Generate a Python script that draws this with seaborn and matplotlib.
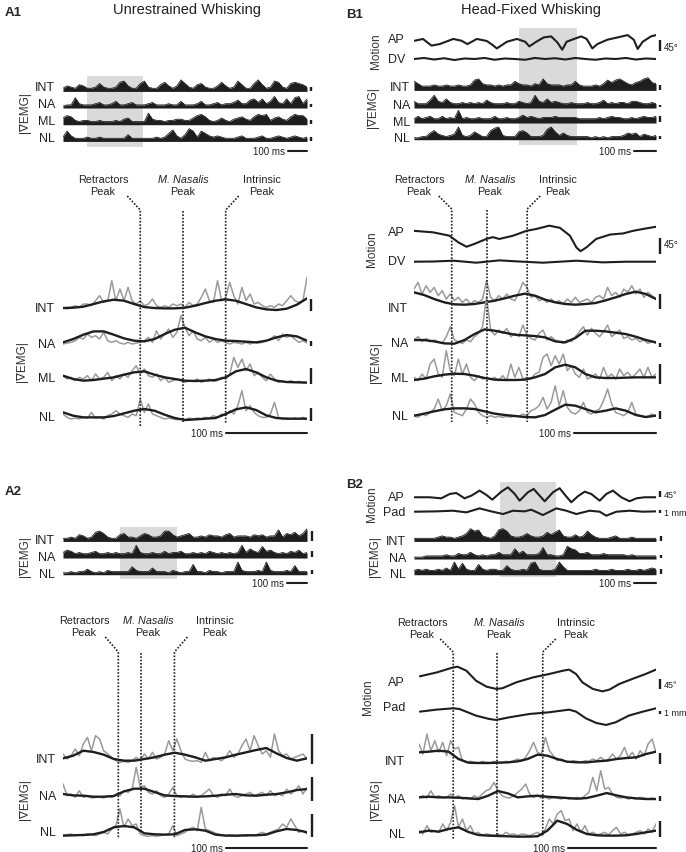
import numpy as np
import matplotlib
matplotlib.use("Agg")
import matplotlib.pyplot as plt
from matplotlib.patches import Rectangle
import seaborn as sns

sns.set_style("white")
plt.rcParams["font.family"] = ["Liberation Sans", "DejaVu Sans"]

# ---------------- data ----------------
# durations (ms) of each trace window, highlighted windows (start, width) and peak times
A1_OV_DUR, A1_DUR = 1260, 300
A2_OV_DUR, A2_DUR = 1200, 300
B1_OV_DUR, B1_DUR = 1110, 295
B2_OV_DUR, B2_DUR = 1100, 270
A1_WIN = (124, 289)
A2_WIN = (280, 280)
B1_WIN = (482, 266)
B2_WIN = (391, 255)
A1_PEAKS = [95, 148, 200]
A2_PEAKS = [68, 96, 137]
B1_PEAKS = [46, 89, 138]
B2_PEAKS = [39, 89, 141]

# overview rectified EMG (envelope, arbitrary units)
A1_OV_INT = [2,4,3,2,5,4,2,2,3,6,3,2,2,3,7,8,4,2,2,6,8,3,2,2,5,7,4,2,4,9,6,3,2,5,6,3,2,2,4,7,4,2,3,8,5,2,2,6,9,5,2,3,8,7,3,2,6,7,6,5,3]
A1_OV_NA = [1,2,2,8,3,2,2,2,3,4,2,2,3,5,2,2,3,4,2,2,2,3,4,2,2,2,3,2,2,5,2,2,2,3,5,2,2,3,4,2,3,3,4,6,3,3,6,7,4,7,3,5,9,4,3,7,3,8,9,3,7]
A1_OV_ML = [5,7,6,3,2,3,3,2,2,3,2,2,2,3,2,4,5,2,2,2,2,9,4,3,3,2,3,3,4,4,3,3,5,7,8,6,3,2,3,5,3,2,4,5,6,4,3,6,8,7,8,3,5,6,4,3,6,8,7,7,4]
A1_OV_NL = [3,8,4,2,2,2,3,2,2,3,2,2,2,2,2,2,5,2,2,2,2,2,2,3,2,3,6,9,4,2,5,10,8,3,8,6,4,3,4,3,2,2,2,3,4,2,2,2,3,4,2,2,3,4,3,2,3,4,3,2,3]

A2_OV_INT = [2,2,3,2,5,4,2,3,7,8,6,3,2,2,5,6,3,3,2,4,6,5,3,3,4,8,8,5,3,4,5,6,3,3,4,3,5,4,4,3,5,6,3,4,4,4,3,5,4,5,3,4,4,9,3,6,5,7,4,6,10]
A2_OV_NA = [4,6,5,3,4,3,3,4,5,3,3,4,3,4,3,3,4,3,10,4,3,3,4,3,3,5,3,4,4,5,3,3,4,3,4,3,5,4,3,4,3,4,3,4,10,4,7,5,4,9,5,6,4,3,4,3,5,4,6,3,4]
A2_OV_NL = [1,1,2,1,2,2,4,2,1,2,1,3,2,2,2,2,2,6,3,2,2,2,5,2,2,2,1,3,2,1,2,2,8,2,2,1,3,2,2,1,2,2,2,10,3,2,2,2,3,2,10,3,2,2,2,3,2,7,2,2,2]

B1_OV_INT = [7,5,3,3,3,4,3,3,4,3,3,4,3,3,4,8,9,5,4,4,3,4,3,4,4,7,5,4,4,3,5,4,9,5,4,4,4,3,4,4,7,4,3,3,3,4,3,5,8,6,8,9,7,5,4,6,7,9,10,6,5]
B1_OV_NA = [5,3,3,3,6,10,5,4,7,4,3,3,4,3,4,3,4,3,6,4,3,3,3,4,3,3,5,4,3,4,10,5,4,7,4,5,4,3,3,4,3,3,3,4,3,3,4,6,3,4,3,4,4,3,5,5,4,3,3,4,3]
B1_OV_ML = [3,5,3,4,5,3,3,5,3,4,3,10,3,4,3,3,4,3,3,3,5,3,3,4,3,3,4,6,4,5,4,3,4,4,4,5,4,4,4,4,4,3,3,3,3,3,4,3,4,5,4,4,3,3,4,3,4,5,4,4,5]
B1_OV_NL = [1,1,2,2,5,7,4,3,2,3,4,10,3,2,3,6,4,2,2,7,9,10,3,2,2,2,6,7,5,2,2,2,3,8,10,6,3,5,3,2,2,2,2,2,1,2,1,2,1,2,2,2,3,5,4,5,2,4,3,2,3]

B2_OV_INT = [2,2,2,2,2,2,3,4,3,3,2,3,4,6,10,8,9,4,3,2,4,9,10,8,4,3,3,4,6,4,3,3,4,7,5,7,9,4,3,3,5,3,4,8,5,3,2,2,2,3,4,2,2,2,3,2,2,2,2,2,2]
B2_OV_NA = [1,1,1,2,2,2,2,2,3,2,2,4,3,3,5,3,2,3,2,3,3,5,3,3,3,8,4,6,3,3,3,4,9,3,3,2,2,3,10,8,7,4,4,5,3,3,3,4,3,3,3,3,3,2,3,2,2,2,2,2,2]
B2_OV_NL = [3,4,3,4,3,3,4,3,5,3,10,4,9,4,3,3,8,4,3,4,4,3,3,7,4,3,3,4,3,9,10,4,3,3,3,4,10,6,3,3,3,3,3,3,3,4,3,3,3,4,3,3,3,4,3,3,4,3,4,5,4]

# overview whisker motion (deg) and pad motion (mm)
B1_OV_AP_T = [3,41,80,118,180,218,245,265,288,334,361,380,426,472,510,529,557,595,629,657,680,700,734,767,792,818,841,887,934,980,1008,1026,1049,1087,1110]
B1_OV_AP = [35,42,16,22,42,35,22,31,42,34,18,5,31,42,31,13,29,48,52,29,0,31,42,52,42,5,22,39,48,57,39,3,31,52,57]
B1_OV_DV = [0,4,-2,3,-4,2,0,4,-3,2,0,-3,4,0,3,-2,4,0,-3,2,0,4,-2,2,0]
B2_OV_AP_T = [3,71,124,162,192,230,261,298,329,356,397,427,458,480,518,544,571,594,632,662,689,715,745,776,806,844,874,904,942,980,1011,1048,1100]
B2_OV_AP = [34,34,27,56,63,27,45,79,50,18,72,101,56,11,68,90,45,7,68,95,45,0,41,72,56,11,56,79,34,7,27,34,34]
B2_OV_PAD_T = [3,102,177,238,298,351,405,450,503,533,586,647,692,738,798,844,874,920,980,1041,1100]
B2_OV_PAD = [0,0.1,0.3,-0.2,1.0,0.1,-0.7,0.3,0.1,0.6,-1.0,1.0,0.3,-0.7,0.3,0,-1.2,0,0.3,0,0.1]

# expanded windows: raw |EMG| (grey) and smoothed (black)
A1_INT_RAW = [1,0.5,1,1.5,1,2,2,1.5,3,4.5,2.5,3,9,3,6.5,3,7,3,2,3,1.5,2,3.5,1.5,1,1.5,1,2,1.5,2,1,2.5,1.5,2,4,6.5,3,2.5,9,3,4,8.5,4.5,2,7,3,5,2,2.5,1.5,1,1.5,1,2,1.5,3,4.5,3,2.5,3,10]
A1_INT_SM = [0.8,0.9,1.2,2.0,2.8,3.3,3.0,2.0,1.1,0.8,0.7,0.7,0.9,1.5,2.3,3.0,3.4,3.0,2.0,1.0,0.4,0.2,0.6,1.8,3.7]
A1_NA_RAW = [0.5,0.8,1.0,1.5,2.5,2.0,3.5,2.5,3.0,2.0,4.0,1.5,1.0,1.5,0.8,0.5,1.0,0.5,0.8,1.0,1.5,2.5,1.0,4.5,2.0,3.5,5.0,2.5,4.0,9.0,5.5,3.0,4.5,2.0,1.5,2.5,1.0,2.0,1.0,1.5,1.0,0.5,1.0,0.8,0.5,1.0,0.5,1.0,0.8,1.0,1.5,2.0,3.0,1.5,3.5,2.5,3.0,2.0,1.0,1.5,0.8]
A1_NA_SM = [1.0,2.0,3.3,4.3,4.3,3.3,2.2,1.5,1.3,2.0,3.5,4.8,5.4,4.0,2.8,2.0,1.5,1.4,1.2,1.0,1.5,2.5,3.2,2.8,1.5]
A1_ML_RAW = [2.5,1.5,2.0,1.0,2.0,1.5,2.5,1.0,3.0,1.5,2.0,3.5,1.0,2.5,1.5,3.0,2.0,4.0,5.5,3.0,4.5,2.5,2.0,3.0,1.0,2.0,0.5,1.0,1.5,1.0,0.5,1.0,0.8,1.5,0.5,1.0,1.5,0.8,1.0,2.0,1.5,3.0,8.0,5.0,7.5,4.0,6.0,2.5,3.5,2.0,1.0,3.0,1.5,0.5,0.8,0.5,1.0,0.5,0.8,0.5,0.5]
A1_ML_SM = [2.5,1.5,1.0,1.2,1.6,2.0,2.8,3.5,3.8,2.8,2.0,1.5,1.0,0.9,1.0,1.2,2.0,3.8,4.5,3.5,2.0,1.0,0.6,0.5,0.4]
A1_NL_RAW = [2.0,1.0,0.5,0.8,0.5,1.0,0.8,2.5,0.8,1.0,0.5,1.5,2.0,3.0,2.0,1.5,1.0,2.0,1.5,6.5,2.5,5.0,2.0,1.5,1.0,0.5,0.8,0.5,0.3,0.5,0.3,0.8,0.5,0.8,0.5,1.0,0.8,1.5,1.0,2.0,1.5,3.0,2.0,4.5,9.0,3.0,4.5,2.5,1.5,1.0,1.0,2.0,5.5,1.0,0.5,0.8,0.5,0.8,0.5,1.0,0.5]
A1_NL_SM = [2.5,1.5,1.0,1.0,1.0,1.4,2.2,3.0,3.5,3.0,1.8,0.8,0.2,0.4,0.6,0.8,2.0,3.4,4.0,3.2,1.6,0.8,0.6,0.6,0.6]

A2_INT_RAW = [3.0,1.5,2.5,4.5,2.5,6.0,8.0,4.0,8.5,7.5,4.0,3.0,2.0,1.0,0.5,0.8,0.5,1.0,2.0,1.0,3.0,1.5,3.5,1.5,2.0,3.0,7.0,4.0,7.5,4.0,1.5,1.0,0.8,1.0,0.5,3.5,1.0,2.0,1.5,1.0,2.0,4.0,2.0,3.0,5.5,7.5,4.0,8.5,5.5,3.0,4.0,2.0,9.0,4.0,2.5,3.0,1.5,2.0,2.5,3.0,1.5]
A2_INT_SM = [1.7,2.5,4.0,3.6,2.8,1.5,1.0,1.0,1.5,2.0,2.8,3.4,2.8,2.0,1.0,1.5,2.0,2.8,3.5,4.2,4.8,3.2,1.8,1.0,1.7]
A2_NA_RAW = [5.0,1.5,2.0,1.0,3.0,1.0,1.5,0.8,1.0,1.2,0.8,1.5,1.0,2.0,1.5,3.0,2.5,3.5,10.0,4.0,4.5,2.5,2.0,3.0,1.5,1.0,2.0,4.0,1.5,1.0,1.5,1.0,2.0,1.0,1.5,2.5,3.5,1.5,1.0,2.0,1.5,3.5,1.5,1.0,1.5,2.0,2.5,1.5,2.0,2.5,1.5,3.0,1.5,2.0,1.5,3.5,2.0,3.0,4.5,2.0,4.0]
A2_NA_SM = [2.0,1.6,1.5,1.2,1.2,1.4,2.8,3.6,3.6,2.6,1.6,1.4,1.3,1.2,1.3,1.5,1.8,2.0,1.6,1.5,1.8,2.0,2.5,3.2,3.5]
A2_NL_RAW = [0.5,0.8,1.0,0.5,0.8,0.5,1.0,0.8,0.5,1.0,1.5,1.0,2.5,3.5,8.5,3.0,5.5,3.5,4.0,1.0,0.5,0.3,0.5,0.3,0.5,0.8,1.0,3.5,0.5,1.0,1.5,2.5,3.0,2.0,9.0,2.5,2.0,1.5,1.0,0.8,0.5,0.8,0.5,0.3,0.5,0.3,0.8,0.5,1.0,1.5,1.0,1.5,2.0,2.5,4.0,3.0,5.5,3.5,1.5,2.0,1.0]
A2_NL_SM = [0.5,0.6,0.7,0.9,1.6,3.0,3.4,3.0,1.2,0.9,0.8,0.9,2.2,2.4,2.0,0.8,0.5,0.5,0.6,0.6,0.8,1.8,2.5,2.2,1.5]

B1_AP_T = [0,23,43,54,64,74,88,96,104,121,137,149,165,178,190,198,203,210,222,239,255,267,279,295]
B1_AP = [58,54,45,27,15,23,36,41,36,45,58,63,72,66,45,13,3,13,36,48,51,58,63,69]
B1_DV_T = [0,23,48,76,104,125,157,178,198,230,259,295]
B1_DV = [0,0.5,2.7,-2.7,3.6,0.9,-2.7,0,2.7,-1.8,0,0]
B1_INT_RAW = [6.0,8.0,4.5,7.0,5.0,6.5,4.0,5.5,3.0,4.5,2.5,3.5,2.0,3.0,1.5,2.5,2.0,3.0,8.5,3.5,2.5,4.0,3.0,4.5,3.0,2.5,5.0,8.0,6.5,3.5,4.0,2.5,3.0,2.0,3.0,2.0,2.5,1.5,3.0,2.0,3.5,2.0,2.5,3.0,2.0,3.5,4.0,3.0,6.5,4.0,5.0,3.5,6.0,5.0,7.0,4.5,6.0,3.5,5.0,4.0,3.0]
B1_INT_SM = [5.0,4.2,3.0,2.0,1.4,1.3,1.5,2.0,2.5,3.2,4.0,4.6,4.0,2.8,2.0,1.5,1.3,1.5,1.8,2.6,3.5,4.5,5.2,4.5,3.0]
B1_NA_RAW = [2.0,3.0,1.5,2.5,1.5,2.0,1.5,1.0,3.0,6.0,2.0,1.5,1.0,2.0,1.5,3.0,4.0,6.0,15.0,5.0,3.5,5.0,4.0,5.5,3.0,4.0,3.0,6.5,3.5,2.5,2.0,4.0,5.0,2.0,3.0,2.0,1.5,1.0,2.0,1.5,3.0,4.5,6.0,3.5,5.5,4.0,3.0,4.5,6.5,3.0,4.0,5.0,2.5,3.0,2.0,2.5,1.5,2.0,1.0,1.5,1.0]
B1_NA_SM = [2.0,2.0,1.6,1.0,0.9,2.0,3.8,5.2,4.8,4.2,3.6,3.4,3.2,2.8,1.6,1.3,2.6,4.8,4.8,4.6,4.2,3.8,3.0,2.0,1.3]
B1_ML_RAW = [2.0,1.0,3.0,1.5,6.0,7.5,3.0,2.0,10.0,4.0,2.5,7.5,3.0,6.0,2.0,1.0,2.5,1.5,2.0,1.5,2.0,1.0,2.5,1.0,6.0,2.0,5.0,1.5,2.0,1.5,3.0,3.5,8.0,9.0,5.5,8.5,6.0,9.0,4.0,5.5,3.0,2.0,4.5,1.5,2.0,3.0,1.5,5.0,2.0,3.0,1.5,4.5,2.5,3.5,2.0,3.0,4.5,2.0,5.0,2.0,3.0]
B1_ML_SM = [1.2,1.6,2.3,2.8,3.1,3.0,2.5,1.8,1.3,1.2,1.2,1.3,2.0,3.0,5.0,5.8,5.0,3.0,2.0,1.8,1.8,1.9,2.0,2.0,2.0]
B1_NL_RAW = [1.0,0.5,1.5,1.0,2.0,3.0,6.0,2.5,4.0,7.5,2.0,1.5,1.0,3.0,6.0,4.5,2.0,1.0,0.5,1.0,0.5,0.8,0.5,0.8,0.5,1.0,0.8,1.5,1.0,2.5,3.0,4.0,6.5,3.0,5.0,10.0,4.0,8.5,3.5,2.0,1.5,2.5,5.0,2.0,1.5,2.5,3.0,5.5,9.0,4.5,2.0,1.5,1.0,2.0,5.0,1.5,1.0,0.5,0.8,1.5,1.0]
B1_NL_SM = [1.0,1.6,2.3,2.9,3.2,3.2,3.0,2.3,1.6,1.2,0.9,0.6,0.5,1.2,2.8,4.3,4.0,3.0,2.0,2.5,3.2,2.5,1.2,0.6,1.0]

B2_AP_T = [1,20,39,44,54,65,77,88,95,111,130,148,164,171,179,186,198,209,217,228,243,258,270]
B2_AP = [65,82,105,108,90,45,18,8,11,38,60,75,90,95,75,38,8,-3,5,30,53,75,95]
B2_PAD_T = [1,20,39,46,65,80,88,103,126,148,171,179,190,202,213,224,239,255,270]
B2_PAD = [1.7,2.3,2.7,2.5,0.5,-0.5,-0.8,0,1.0,1.5,2.3,1.7,-0.3,-1.7,-2.3,-1.5,0.5,1.7,2.7]
B2_INT_RAW = [6.0,3.0,9.0,4.0,7.0,3.5,6.5,2.5,7.0,4.5,5.0,1.0,0.5,0.8,0.5,0.3,0.8,0.5,0.3,0.8,0.5,0.3,0.8,0.5,1.0,1.5,0.8,2.0,4.0,6.5,3.5,3.0,8.0,4.0,2.5,1.0,1.5,0.8,0.5,1.0,0.8,0.5,1.0,0.8,1.5,1.0,2.0,1.0,1.5,3.0,1.5,2.5,5.0,2.0,3.5,1.5,4.0,2.5,6.0,7.5,3.5]
B2_INT_SM = [3.5,3.7,4.0,3.7,1.5,0.4,0.3,0.3,0.4,0.5,0.8,1.5,2.8,2.5,1.5,0.7,0.5,0.5,0.8,1.0,1.5,1.8,2.0,3.0,3.7]
B2_NA_RAW = [1.0,1.5,0.8,3.0,1.0,1.5,0.8,1.0,2.0,0.8,1.5,0.5,1.0,0.5,1.5,0.8,2.0,3.0,3.5,5.5,3.0,1.5,1.0,0.8,1.5,2.5,3.5,5.0,2.0,1.0,1.5,0.8,1.0,0.5,1.0,0.8,0.5,1.0,0.5,0.8,1.0,0.5,1.5,2.5,7.0,3.0,9.0,3.5,4.0,2.0,1.0,0.8,1.0,0.5,0.8,0.5,1.0,0.8,0.5,0.8,0.5]
B2_NA_SM = [1.0,1.2,1.0,1.0,0.9,0.7,0.5,1.5,2.9,2.2,1.0,1.3,1.5,1.2,1.0,0.8,0.6,0.8,1.5,2.3,1.6,1.0,0.7,0.5,0.5]
B2_NL_RAW = [2.0,1.0,3.5,1.5,2.0,1.5,4.0,2.0,4.5,9.5,3.0,5.5,2.0,3.5,1.0,1.5,0.5,1.0,0.8,0.5,1.0,0.5,1.5,0.8,1.0,0.5,1.0,0.8,0.5,1.0,1.5,0.5,2.5,5.5,4.0,7.0,8.0,5.0,5.5,2.0,4.0,1.5,3.5,1.0,1.5,0.8,1.0,1.5,0.8,2.0,3.0,1.0,1.5,0.8,1.0,1.5,2.0,1.0,2.5,1.5,4.0]
B2_NL_SM = [1.5,2.0,1.7,2.5,3.0,1.6,0.7,0.5,0.4,0.3,0.2,0.2,0.3,2.0,5.0,4.0,2.2,1.0,0.6,0.5,0.5,0.6,1.0,1.5,2.0]

# ---------------- drawing ----------------
W, H = 686, 853
DARK = "#1e1e1e"
GRAY = "#9a9a9a"
BOX = "#dadada"
TXT = "#222222"

fig = plt.figure(figsize=(W / 100, H / 100), dpi=100)
over = fig.add_axes([0, 0, 1, 1], zorder=5)
over.set_xlim(0, W)
over.set_ylim(H, 0)
over.axis("off")


def box_ax(x0, x1, y0, y1, xlim, ylim, z=1):
    # axes placed by its pixel box (y from the top)
    ax = fig.add_axes([x0 / W, 1 - y1 / H, (x1 - x0) / W, (y1 - y0) / H], zorder=z)
    ax.set_xlim(*xlim)
    ax.set_ylim(*ylim)
    ax.axis("off")
    ax.wpx = x1 - x0
    return ax


def row_ax(x0, x1, base, ppu, dur, lo, hi):
    # one trace; value 0 sits on pixel row `base`, ppu pixels per unit
    return box_ax(x0, x1, base - hi * ppu, base - lo * ppu, (0, dur), (lo, hi))


def block(x0, x1, y0, y1, dur, z=0):
    # x in ms, y in pixels
    return box_ax(x0, x1, y0, y1, (0, dur), (y1, y0), z)


def dense(ax, v):
    t = np.linspace(0, ax.get_xlim()[1], len(v))
    ax.fill_between(t, -0.6, v, color=DARK, lw=0)
    sns.lineplot(x=t, y=v, ax=ax, color=DARK, lw=0.6)


def emg(ax, raw, smooth):
    dur = ax.get_xlim()[1]
    sns.lineplot(x=np.linspace(0, dur, len(raw)), y=raw, ax=ax, color=GRAY, lw=1.1)
    sns.lineplot(x=np.linspace(0, dur, len(smooth)), y=smooth, ax=ax, color=DARK, lw=1.7)


def motion(ax, t, v):
    sns.lineplot(x=t, y=v, ax=ax, color=DARK, lw=1.5)


def vbar(ax, y0, y1, gap=4):
    xa = 1 + gap / ax.wpx
    ax.plot([xa, xa], [y0, y1], transform=ax.get_yaxis_transform(), color=DARK,
            lw=1.7, clip_on=False, solid_capstyle="butt")


def time_bar(ax, y):
    dur = ax.get_xlim()[1]
    ax.plot([dur - 100, dur], [y, y], color=DARK, lw=1.5, clip_on=False)
    ax.text(dur - 100 - 3 * dur / ax.wpx, y, "100 ms", ha="right", va="center",
            fontsize=7, color=TXT)


def window(ax, win, y0, y1):
    ax.add_patch(Rectangle((win[0], y0), win[1], y1 - y0, color=BOX, lw=0))


def peak_lines(ax, times, top, knee, bottoms):
    dx = 13 * ax.get_xlim()[1] / ax.wpx
    for t, k, b in zip(times, (-1, 0, 1), bottoms):
        if k:
            xs, ys = [t + k * dx, t, t], [top, knee, b]
        else:
            xs, ys = [t, t], [knee + 1, b]
        ax.plot(xs, ys, color=DARK, lw=1.2, ls=(0, (1, 1)), clip_on=False)


def peak_labels(xs, y):
    over.text(xs[0], y, "Retractors", ha="center", va="center", fontsize=7.8, color=TXT)
    over.text(xs[1], y, "M. Nasalis", ha="center", va="center", fontsize=7.8,
              color=TXT, style="italic")
    over.text(xs[2], y, "Intrinsic", ha="center", va="center", fontsize=7.8, color=TXT)
    for x in xs:
        over.text(x, y + 12, "Peak", ha="center", va="center", fontsize=7.8, color=TXT)


def labels(x, items, fs=9):
    for s, y in items:
        over.text(x, y, s, ha="right", va="center", fontsize=fs, color=TXT)


def side(x, y, s):
    over.text(x, y, s, ha="center", va="center", rotation=90, fontsize=8.5, color="#333333")


# ---- titles ----
over.text(5, 13, "A1", fontsize=9.5, weight="bold", va="center")
over.text(5, 492, "A2", fontsize=9.5, weight="bold", va="center")
over.text(346, 15, "B1", fontsize=9.5, weight="bold", va="center")
over.text(346, 485, "B2", fontsize=9.5, weight="bold", va="center")
over.text(187, 10, "Unrestrained Whisking", fontsize=10.5, ha="center", va="center", color=TXT)
over.text(531, 10, "Head-Fixed Whisking", fontsize=10.5, ha="center", va="center", color=TXT)

# ---- A1 overview ----
b = block(63, 307, 70, 162, A1_OV_DUR)
window(b, A1_WIN, 77, 148)
time_bar(b, 152)
for base, vals, cal in [(91.7, A1_OV_INT, 3.5), (108.3, A1_OV_NA, 2.5),
                        (125.0, A1_OV_ML, 3.5), (141.7, A1_OV_NL, 3.5)]:
    r = row_ax(63, 307, base, 1.2, A1_OV_DUR, -2, 12)
    dense(r, vals)
    vbar(r, 0, cal)
labels(55, [("INT", 88), ("NA", 105), ("ML", 122), ("NL", 139)])
side(25, 113, "|∇EMG|")

# ---- A1 expanded ----
b = block(63, 307, 170, 445, A1_DUR, z=2)
peak_lines(b, A1_PEAKS, 197, 211, [427, 423, 425])
time_bar(b, 434)
for base, raw, sm, cal in [(311.7, A1_INT_RAW, A1_INT_SM, 3.6), (346.7, A1_NA_RAW, A1_NA_SM, 1.5),
                           (385.0, A1_ML_RAW, A1_ML_SM, 4.8), (421.7, A1_NL_RAW, A1_NL_SM, 3.9)]:
    r = row_ax(63, 307, base, 3.33, A1_DUR, -3, 16)
    emg(r, raw, sm)
    vbar(r, 0, cal)
peak_labels([103, 183, 262], 180)
labels(55, [("INT", 309), ("NA", 345), ("ML", 379), ("NL", 418)])
side(22, 362, "|∇EMG|")

# ---- A2 overview ----
b = block(63, 307, 520, 592, A2_OV_DUR)
window(b, A2_WIN, 528, 580)
time_bar(b, 584)
for base, vals, cal in [(541.7, A2_OV_INT, 8.3), (558.3, A2_OV_NA, 5.0), (575.0, A2_OV_NL, 3.5)]:
    r = row_ax(63, 307, base, 1.2, A2_OV_DUR, -2, 12)
    dense(r, vals)
    vbar(r, 0, cal, gap=5)
labels(55, [("INT", 541), ("NA", 558), ("NL", 575)])
side(25, 557, "|∇EMG|")

# ---- A2 expanded ----
b = block(63, 307, 615, 853, A2_DUR, z=2)
peak_lines(b, A2_PEAKS, 638, 653, [840, 833, 840])
time_bar(b, 849)
for base, raw, sm, cal in [(765.0, A2_INT_RAW, A2_INT_SM, 9.0), (801.7, A2_NA_RAW, A2_NA_SM, 7.0),
                           (838.3, A2_NL_RAW, A2_NL_SM, 7.0)]:
    r = row_ax(63, 307, base, 3.33, A2_DUR, -3, 16)
    emg(r, raw, sm)
    vbar(r, 0, cal, gap=5)
peak_labels([84, 148, 215], 621)
labels(56, [("INT", 760), ("NA", 797), ("NL", 833)])
side(25, 800, "|∇EMG|")

# ---- B1 overview ----
b = block(414, 656, 25, 162, B1_OV_DUR)
window(b, B1_WIN, 29, 146)
time_bar(b, 152)
r = row_ax(414, 656, 50.7, 0.256, B1_OV_DUR, -40, 120)
motion(r, B1_OV_AP_T, B1_OV_AP)
vbar(r, -6, 39)
r = row_ax(414, 656, 60.0, 0.256, B1_OV_DUR, -40, 40)
motion(r, np.linspace(0, B1_OV_DUR, len(B1_OV_DV)), B1_OV_DV)
for base, vals, cal in [(90.7, B1_OV_INT, 3.9), (108.3, B1_OV_NA, 2.0),
                        (123.3, B1_OV_ML, 5.5), (140.0, B1_OV_NL, 2.2)]:
    r = row_ax(414, 656, base, 1.2, B1_OV_DUR, -2, 12)
    dense(r, vals)
    vbar(r, 0, cal)
over.text(664, 48, "45°", fontsize=7, va="center", color=TXT)
labels(405, [("AP", 40), ("DV", 60)])
labels(410, [("INT", 88), ("NA", 106), ("ML", 123), ("NL", 139)])
side(376, 51, "Motion")
side(373, 108, "|∇EMG|")

# ---- B1 expanded ----
b = block(414, 656, 170, 445, B1_DUR, z=2)
peak_lines(b, B1_PEAKS, 197, 210, [423, 425, 423])
time_bar(b, 434)
r = row_ax(414, 656, 253.3, 0.37, B1_DUR, -40, 120)
motion(r, B1_AP_T, B1_AP)
vbar(r, -5, 40)
r = row_ax(414, 656, 262.7, 0.37, B1_DUR, -30, 30)
motion(r, B1_DV_T, B1_DV)
for base, raw, sm, cal in [(310.0, B1_INT_RAW, B1_INT_SM, 4.5), (347.7, B1_NA_RAW, B1_NA_SM, 1.2),
                           (385.0, B1_ML_RAW, B1_ML_SM, 6.0), (420.0, B1_NL_RAW, B1_NL_SM, 2.5)]:
    r = row_ax(414, 656, base, 3.33, B1_DUR, -3, 17)
    emg(r, raw, sm)
    vbar(r, 0, cal)
over.text(664, 245, "45°", fontsize=7, va="center", color=TXT)
peak_labels([419, 490, 558], 180)
labels(405, [("AP", 233), ("DV", 262)])
labels(408, [("INT", 309), ("NA", 344), ("ML", 379), ("NL", 417)])
side(372, 249, "Motion")
side(376, 363, "|∇EMG|")

# ---- B2 overview ----
b = block(414, 656, 478, 592, B2_OV_DUR)
window(b, B2_WIN, 483, 578)
time_bar(b, 584)
r = row_ax(414, 656, 503.3, 0.148, B2_OV_DUR, -60, 160)
motion(r, B2_OV_AP_T, B2_OV_AP)
vbar(r, 34, 79)
r = row_ax(414, 656, 512.7, 3.33, B2_OV_DUR, -3, 3)
motion(r, B2_OV_PAD_T, B2_OV_PAD)
vbar(r, -0.5, 0.5)
for base, vals, cal in [(541.7, B2_OV_INT, 4.0), (559.3, B2_OV_NA, 2.5), (575.0, B2_OV_NL, 4.0)]:
    r = row_ax(414, 656, base, 1.2, B2_OV_DUR, -2, 12)
    dense(r, vals)
    vbar(r, 0, cal, gap=5)
over.text(664, 496, "45°", fontsize=6.5, va="center", color=TXT)
over.text(664, 513, "1 mm", fontsize=6.5, va="center", color=TXT)
labels(405, [("AP", 498), ("Pad", 513)])
labels(406, [("INT", 542), ("NA", 559), ("NL", 575)])
side(372, 504, "Motion")
side(375, 557, "|∇EMG|")

# ---- B2 expanded ----
b = block(419, 656, 615, 853, B2_DUR, z=2)
peak_lines(b, B2_PEAKS, 640, 653, [840, 837, 838])
time_bar(b, 849)
r = row_ax(419, 656, 691.7, 0.222, B2_DUR, -60, 160)
motion(r, B2_AP_T, B2_AP)
vbar(r, 8, 53)
r = row_ax(419, 656, 718.3, 3.33, B2_DUR, -4, 4)
motion(r, B2_PAD_T, B2_PAD)
vbar(r, 1, 2)
for base, raw, sm, cal in [(765.0, B2_INT_RAW, B2_INT_SM, 3.3), (801.7, B2_NA_RAW, B2_NA_SM, 1.5),
                           (838.3, B2_NL_RAW, B2_NL_SM, 5.0)]:
    r = row_ax(419, 656, base, 3.33, B2_DUR, -3, 16)
    emg(r, raw, sm)
    vbar(r, 0, cal)
over.text(664, 685, "45°", fontsize=6.5, va="center", color=TXT)
over.text(664, 714, "1 mm", fontsize=6.5, va="center", color=TXT)
peak_labels([422, 499, 576], 623)
labels(405, [("AP", 683), ("Pad", 708)])
labels(405, [("INT", 762), ("NA", 800), ("NL", 835)])
side(368, 697, "Motion")
side(376, 800, "|∇EMG|")

fig.savefig("out.png", dpi=100)
